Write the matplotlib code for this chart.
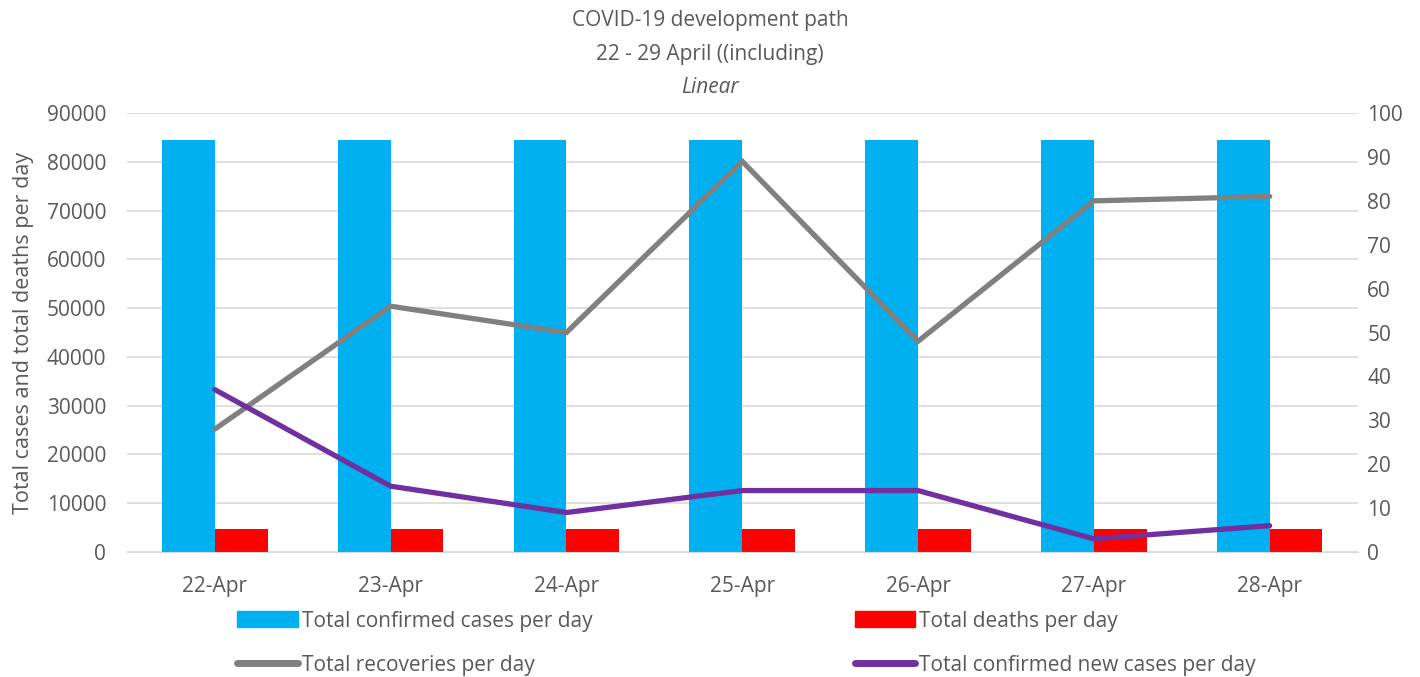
import numpy as np
import matplotlib.pyplot as plt
from matplotlib.patches import Patch
from matplotlib.lines import Line2D

plt.rcParams['font.family'] = ['Open Sans', 'DejaVu Sans']

# data
dates = ['22-Apr', '23-Apr', '24-Apr', '25-Apr', '26-Apr', '27-Apr', '28-Apr']
confirmed = [84400, 84400, 84400, 84400, 84400, 84400, 84400]
deaths = [4640, 4640, 4640, 4640, 4640, 4640, 4640]
recoveries = [28, 56, 50, 89, 48, 80, 81]
new_cases = [37, 15, 9, 14, 14, 3, 6]

text_col = '#595959'
grid_col = '#d9d9d9'

fig = plt.figure(figsize=(14.2, 6.77), dpi=100)
ax = fig.add_axes([0.0894, 0.1846, 0.8666, 0.6484])
ax2 = ax.twinx()

x = np.arange(len(dates))
w = 0.3
ax.bar(x - w / 2, confirmed, w, color='#00b0f0', zorder=2)
ax.bar(x + w / 2, deaths, w, color='#ff0000', zorder=2)

ax2.plot(x, recoveries, color='#808080', lw=3.8, solid_capstyle='round', solid_joinstyle='miter')
ax2.plot(x, new_cases, color='#7030a0', lw=3.8, solid_capstyle='round', solid_joinstyle='miter')

ax.set_xlim(-0.5, len(dates) - 0.5)
ax.set_ylim(0, 90000)
ax.set_yticks(np.arange(0, 90001, 10000))
ax2.set_ylim(0, 100)
ax2.set_yticks(np.arange(0, 101, 10))
ax.set_xticks(x)
ax.set_xticklabels(dates)

ax.grid(axis='y', color=grid_col, lw=1.2, zorder=0)
ax.set_axisbelow(True)
for a in (ax, ax2):
    for s in a.spines.values():
        s.set_visible(False)
    a.tick_params(length=0, labelsize=15, labelcolor=text_col)
ax.spines['bottom'].set_visible(True)
ax.spines['bottom'].set_color(grid_col)
ax.tick_params(axis='x', pad=17)
ax.tick_params(axis='y', pad=15)
ax2.tick_params(axis='y', pad=7)

ax.set_ylabel('Total cases and total deaths per day', fontsize=15.5, color=text_col, labelpad=9)

fig.text(0.5, 0.970, 'COVID-19 development path', ha='center', va='center', fontsize=15, color=text_col)
fig.text(0.5, 0.920, '22 - 29 April ((including)', ha='center', va='center', fontsize=15, color=text_col)
fig.text(0.5, 0.871, 'Linear', ha='center', va='center', fontsize=15, color=text_col, style='italic')

handles = [
    Patch(color='#00b0f0', label='Total confirmed cases per day'),
    Line2D([], [], color='#808080', lw=5, solid_capstyle='round', label='Total recoveries per day'),
    Patch(color='#ff0000', label='Total deaths per day'),
    Line2D([], [], color='#7030a0', lw=5, solid_capstyle='round', label='Total confirmed new cases per day'),
]
leg = fig.legend(handles=handles, ncol=2, loc='upper left', bbox_to_anchor=(0.167, 0.098),
                 frameon=False, fontsize=15, handlelength=2.9, handleheight=0.8,
                 handletextpad=0.2, columnspacing=12.6, labelspacing=1.1,
                 borderaxespad=0, borderpad=0)
for t in leg.get_texts():
    t.set_color(text_col)

fig.savefig('out.png', dpi=100)
